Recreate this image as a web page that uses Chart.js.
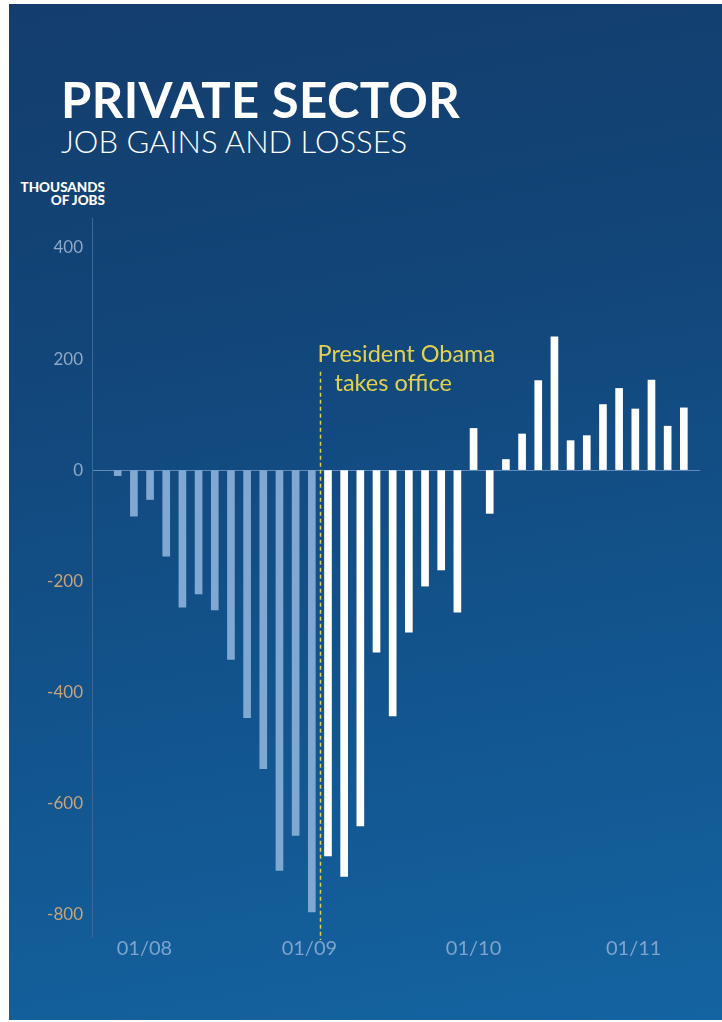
<!DOCTYPE html>
<html>
<head>
<meta charset="utf-8">
<script src="https://cdn.jsdelivr.net/npm/chart.js@4.4.1/dist/chart.umd.min.js"></script>
<style>
  html, body { margin: 0; padding: 0; background: #ffffff; width: 722px; height: 1022px; overflow: hidden; }
  #panel {
    position: absolute; left: 9px; top: 4px; width: 713px; height: 1016px;
    background: linear-gradient(170deg, #133d6c 0%, #124578 30%, #12548d 65%, #1464a1 100%);
  }
  #chart { position: absolute; left: 0; top: 0; }
  .title { position: absolute; left: 61px; top: 70px; font: 700 49px Lato, sans-serif; color: #ffffff; letter-spacing: 0.4px; white-space: nowrap; }
  .subtitle { position: absolute; left: 61px; top: 122px; font: 300 31px Lato, sans-serif; color: #ffffff; white-space: nowrap; }
  .unit { position: absolute; right: 617px; top: 181px; font: 900 13.5px/12.5px Lato, sans-serif; color: #ffffff; text-align: right; white-space: nowrap; }
</style>
</head>
<body>
<div id="panel"></div>
<div class="title">PRIVATE SECTOR</div>
<div class="subtitle">JOB GAINS AND LOSSES</div>
<div class="unit">THOUSANDS<br>OF JOBS</div>
<canvas id="chart" width="722" height="1022"></canvas>
<script>
// Monthly private-sector job change, thousands of jobs
const bushMonths = [-10, -83, -53, -155, -247, -223, -252, -341, -446, -538, -721, -658, -796];
const obamaMonths = [-695, -732, -641, -328, -443, -292, -209, -180, -256, 75, -78, 19, 65, 161, 240, 53, 62, 118, 147, 110, 162, 79, 112];
const yTickValues = [400, 200, 0, -200, -400, -600, -800];
const dateLabels = ['01/08', '01/09', '01/10', '01/11'];
const dateTickMonths = [1.65, 11.85, 22, 31.9];
const noteLines = ['President Obama', 'takes office'];

const values = bushMonths.concat(obamaMonths);
const points = values.map((v, i) => ({ x: i, y: v }));
const barColors = values.map((v, i) => i < bushMonths.length ? '#80a8d2' : '#ffffff');

// Dashed marker between the two administrations, with its caption
const inaugurationNote = {
  id: 'inaugurationNote',
  afterDatasetsDraw(chart) {
    const { ctx, scales: { x, y }, chartArea } = chart;
    const lx = Math.round(x.getPixelForValue(bushMonths.length - 0.5)) + 0.5;
    const top = y.getPixelForValue(177);
    ctx.save();
    ctx.strokeStyle = '#d8d057';
    ctx.lineWidth = 1.5;
    ctx.setLineDash([4, 3]);
    ctx.beginPath();
    ctx.moveTo(lx, top);
    ctx.lineTo(lx, chartArea.bottom + 3);
    ctx.stroke();
    ctx.setLineDash([]);
    ctx.fillStyle = '#e4d24e';
    ctx.font = '400 23.5px Lato, sans-serif';
    ctx.textAlign = 'left';
    ctx.textBaseline = 'alphabetic';
    ctx.fillText(noteLines[0], lx - 3, top - 10);
    ctx.fillText(noteLines[1], lx + 14, top + 19);
    ctx.restore();
  }
};

new Chart(document.getElementById('chart'), {
  type: 'bar',
  data: {
    datasets: [{
      data: points,
      backgroundColor: barColors,
      borderWidth: 0,
      barThickness: 7
    }]
  },
  options: {
    responsive: false,
    animation: false,
    devicePixelRatio: 1,
    layout: { padding: { top: 218, left: 0, right: 22, bottom: 0 } },
    plugins: { legend: { display: false }, tooltip: { enabled: false } },
    scales: {
      x: {
        type: 'linear',
        offset: false,
        min: -1.59,
        max: 36,
        afterFit(scale) { scale.height = 85; },
        afterBuildTicks(scale) { scale.ticks = dateTickMonths.map(v => ({ value: v })); },
        grid: { display: false, offset: false },
        border: { display: false },
        ticks: {
          autoSkip: false,
          maxRotation: 0,
          padding: -8,
          color: '#7ea4cd',
          font: { family: 'Lato', size: 20, weight: '400' },
          callback: (v, i) => dateLabels[i]
        }
      },
      y: {
        min: -841,
        max: 454,
        afterFit(scale) { scale.width = 92; },
        afterBuildTicks(scale) { scale.ticks = yTickValues.map(v => ({ value: v })); },
        grid: {
          drawTicks: false,
          lineWidth: 1,
          color: c => (c.tick && c.tick.value === 0) ? '#5f8aba' : 'rgba(0,0,0,0)'
        },
        border: { display: true, color: '#3a6899', width: 1 },
        ticks: {
          padding: 9,
          color: c => c.tick.value < 0 ? '#c6a37a' : '#8ea8c8',
          font: { family: 'Lato', size: 17 }
        }
      }
    }
  },
  plugins: [inaugurationNote]
});
</script>
</body>
</html>
